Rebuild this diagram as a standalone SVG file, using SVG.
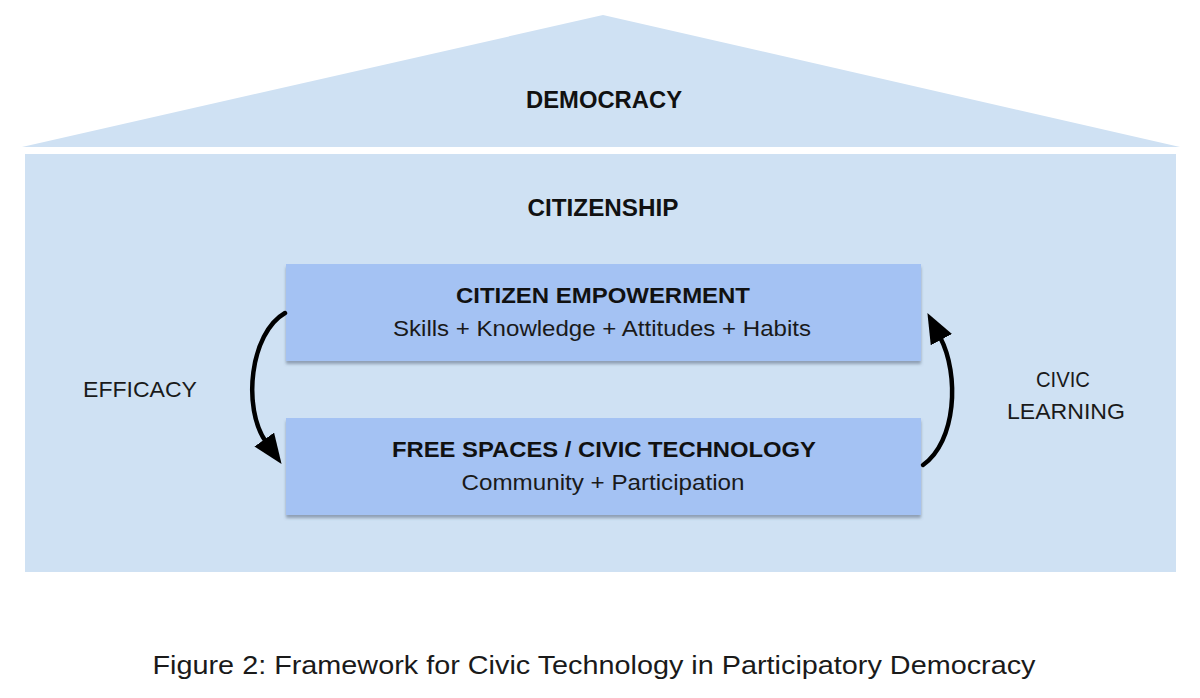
<svg xmlns="http://www.w3.org/2000/svg" width="1200" height="698" viewBox="0 0 1200 698">
  <style>
    .bold { font-family: "Liberation Sans", Arial, sans-serif; font-weight: bold; fill: #111; text-anchor: middle; }
    .reg { font-family: "Liberation Sans", Arial, sans-serif; fill: #1a1a1a; text-anchor: middle; }
    .house { fill: #cfe1f3; }
    .box { fill: #a4c2f3; filter: url(#shadow); }
    .conn { fill: none; stroke: #000; stroke-width: 4.5; stroke-linecap: round; }
  </style>
  <defs>
    <filter id="shadow" x="-5%" y="-10%" width="110%" height="130%">
      <feDropShadow dx="0" dy="3" stdDeviation="1.5" flood-color="#5a6a80" flood-opacity="0.55"/>
    </filter>
    <marker id="arrow" viewBox="0 0 30 24" refX="3" refY="12" markerWidth="30" markerHeight="24" markerUnits="userSpaceOnUse" orient="auto">
      <path d="M0,0 L30,12 L0,24 z" fill="#000"/>
    </marker>
  </defs>
  <rect width="1200" height="698" fill="#fff"/>

  <g id="democracy">
    <polygon class="house" points="603,15 1180,147 22,147"/>
    <text class="bold" x="604" y="108" font-size="23" textLength="156" lengthAdjust="spacingAndGlyphs">DEMOCRACY</text>
  </g>

  <g id="citizenship">
    <rect class="house" x="25" y="154" width="1151" height="418"/>
    <text class="bold" x="603" y="216" font-size="23" textLength="151" lengthAdjust="spacingAndGlyphs">CITIZENSHIP</text>
  </g>

  <g id="empowerment">
    <rect class="box" x="286" y="264" width="635" height="97"/>
    <text class="bold" x="603" y="303" font-size="22" textLength="294" lengthAdjust="spacingAndGlyphs">CITIZEN EMPOWERMENT</text>
    <text class="reg" x="602" y="336" font-size="22" textLength="418" lengthAdjust="spacingAndGlyphs">Skills + Knowledge + Attitudes + Habits</text>
  </g>

  <g id="freespaces">
    <rect class="box" x="286" y="418" width="635" height="97"/>
    <text class="bold" x="604" y="457" font-size="22" textLength="424" lengthAdjust="spacingAndGlyphs">FREE SPACES / CIVIC TECHNOLOGY</text>
    <text class="reg" x="603" y="490" font-size="22" textLength="283" lengthAdjust="spacingAndGlyphs">Community + Participation</text>
  </g>

  <g id="efficacy">
    <text class="reg" x="140" y="397" font-size="22" textLength="114" lengthAdjust="spacingAndGlyphs">EFFICACY</text>
  </g>

  <g id="civic-learning">
    <text class="reg" x="1063" y="387" font-size="22" textLength="54" lengthAdjust="spacingAndGlyphs">CIVIC</text>
    <text class="reg" x="1066" y="419" font-size="22" textLength="118" lengthAdjust="spacingAndGlyphs">LEARNING</text>
  </g>

  <g id="connectors">
    <path class="conn" d="M285,313 C250,333 242,408 266,442" marker-end="url(#arrow)"/>
    <path class="conn" d="M923,465 C956,442 960,375 940,337" marker-end="url(#arrow)"/>
  </g>

  <g id="caption">
    <text class="reg" x="594" y="674" font-size="26" fill="#111" textLength="883" lengthAdjust="spacingAndGlyphs">Figure 2: Framework for Civic Technology in Participatory Democracy</text>
  </g>
</svg>
